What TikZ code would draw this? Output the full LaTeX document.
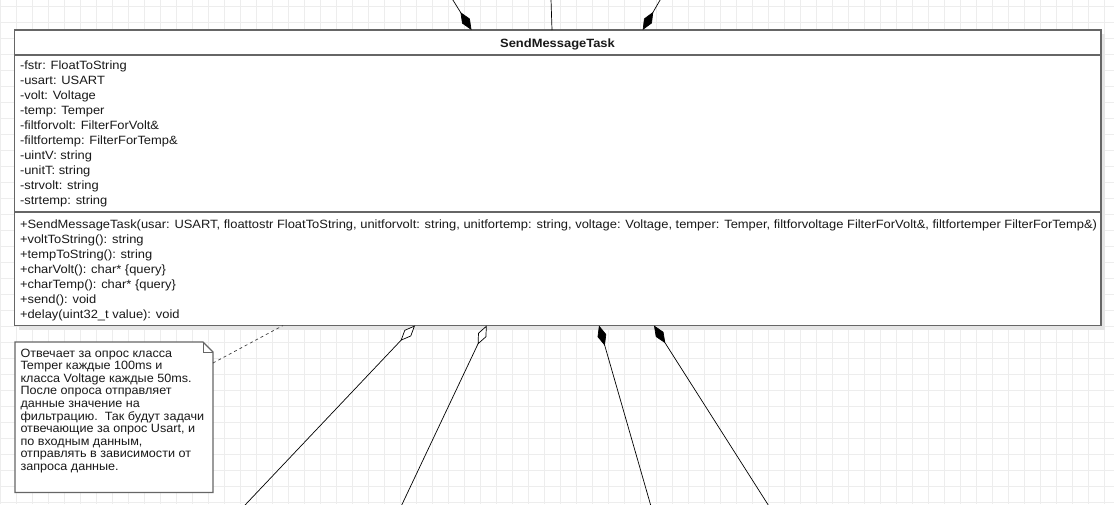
\documentclass[tikz,border=0pt]{standalone}
\usepackage{fontspec}
\setmainfont{Liberation Sans}
\newfontfamily\clsfont[FakeStretch=1.077]{Liberation Sans}
\newfontfamily\notefont[FakeStretch=1.05]{Liberation Sans}
\usetikzlibrary{arrows.meta,calc,shadows}
\begin{document}
\begin{tikzpicture}[x=1pt,y=-1pt,
  gridline/.style={draw=black!7, line width=0.6pt},
  umlbox/.style={draw=black!60, line width=1.1pt, fill=white, inner sep=0pt, outer sep=0pt,
    drop shadow={shadow xshift=4pt, shadow yshift=-4pt, fill=black!10, opacity=1}},
  sepline/.style={draw=black!60, line width=1.1pt},
  txt/.style={anchor=north west, inner sep=0pt, outer sep=0pt, align=left, text=black!90,
    font=\clsfont\fontsize{12}{15}\selectfont},
  notetxt/.style={anchor=north west, inner sep=0pt, outer sep=0pt, align=left, text=black!90,
    font=\notefont\fontsize{12}{12.6}\selectfont},
  conn/.style={draw=black, line width=0.7pt},
  filleddia/.style={-{Diamond[length=21pt,width=9pt,fill=black]}},
  opendia/.style={-{Diamond[length=21pt,width=9pt,open,fill=white]}},
  noteline/.style={draw=black!60, line width=1.1pt, fill=white},
  dashconn/.style={draw=black!75, line width=0.7pt, dash pattern=on 3pt off 3pt},
]
\useasboundingbox (0,0) rectangle (1114,504);
\clip (0,0) rectangle (1114,504);
% background grid
\foreach \x in {0,16,...,1104} \draw[gridline] (\x,0) -- (\x,504);
\foreach \y in {6,22,...,502} \draw[gridline] (0,\y) -- (1114,\y);

% class box
\node[umlbox, anchor=north west, minimum width=1086.5pt, minimum height=295.5pt] (cls) at (14.5,30) {};
\draw[sepline] (cls.west |- 0,55) -- (cls.east |- 0,55);
\draw[sepline] (cls.west |- 0,212) -- (cls.east |- 0,212);
\node[anchor=base, inner sep=0pt, font=\clsfont\fontsize{12}{15}\selectfont\bfseries, text=black!90] (title) at (557.5,47) {SendMessageTask};
\node[txt] (attrs) at (20,59) {\strut-fstr: FloatToString\\
-usart: USART\\
-volt: Voltage\\
-temp: Temper\\
-filtforvolt: FilterForVolt\&\\
-filtfortemp: FilterForTemp\&\\
-uintV: string\\
-unitT: string\\
-strvolt: string\\
-strtemp: string};
\node[txt] (methods) at (20,218) {\strut+SendMessageTask(usar: USART, floattostr FloatToString, unitforvolt: string, unitfortemp: string, voltage: Voltage, temper: Temper, filtforvoltage FilterForVolt\&, filtfortemper FilterForTemp\&)\\
+voltToString(): string\\
+tempToString(): string\\
+charVolt(): char* \{query\}\\
+charTemp(): char* \{query\}\\
+send(): void\\
+delay(uint32\_t value): void};

% note
\node[inner sep=0pt, outer sep=0pt, anchor=north west, minimum width=198pt, minimum height=150.5pt] (note) at (15,342) {};
\draw[noteline] (note.north west) -- ($(note.north east)+(-10,0)$) -- ($(note.north east)+(0,10)$) -- (note.south east) -- (note.south west) -- cycle;
\draw[noteline, fill=none, line width=0.9pt] ($(note.north east)+(-10,0)$) -- ($(note.north east)+(-10,10)$) -- ($(note.north east)+(0,10)$);
\node[notetxt] (notetext) at (20.5,347.8) {\rule{0pt}{9.2pt}Отвечает за опрос класса\\
Temper каждые 100ms и\\
класса Voltage каждые 50ms.\\
После опроса отправляет\\
данные значение на\\
фильтрацию.\ \ Так будут задачи\\
отвечающие за опрос Usart, и\\
по входным данным,\\
отправлять в зависимости от\\
запроса данные.};
\draw[dashconn] (note.east |- 0,363) -- (283,0 |- cls.south);

% connectors above
\coordinate (t1) at (446.7,-10);
\coordinate (t2) at (550.7,-10);
\coordinate (t3) at (665.9,-10);
\draw[conn, filleddia] (t1) -- (471.5,0 |- cls.north);
\draw[conn] (t2) -- (552,0 |- cls.north);
\draw[conn, filleddia] (t3) -- (642.7,0 |- cls.north);

% connectors below
\coordinate (b1) at (235.6,515);
\coordinate (b2) at (397,515);
\coordinate (b3) at (653.5,515);
\coordinate (b4) at (774.6,515);
\draw[conn, opendia] (b1) -- (415,0 |- cls.south);
\draw[conn, opendia] (b2) -- (486.7,0 |- cls.south);
\draw[conn, filleddia] (b3) -- (599,0 |- cls.south);
\draw[conn, filleddia] (b4) -- (654,0 |- cls.south);
\end{tikzpicture}
\end{document}
